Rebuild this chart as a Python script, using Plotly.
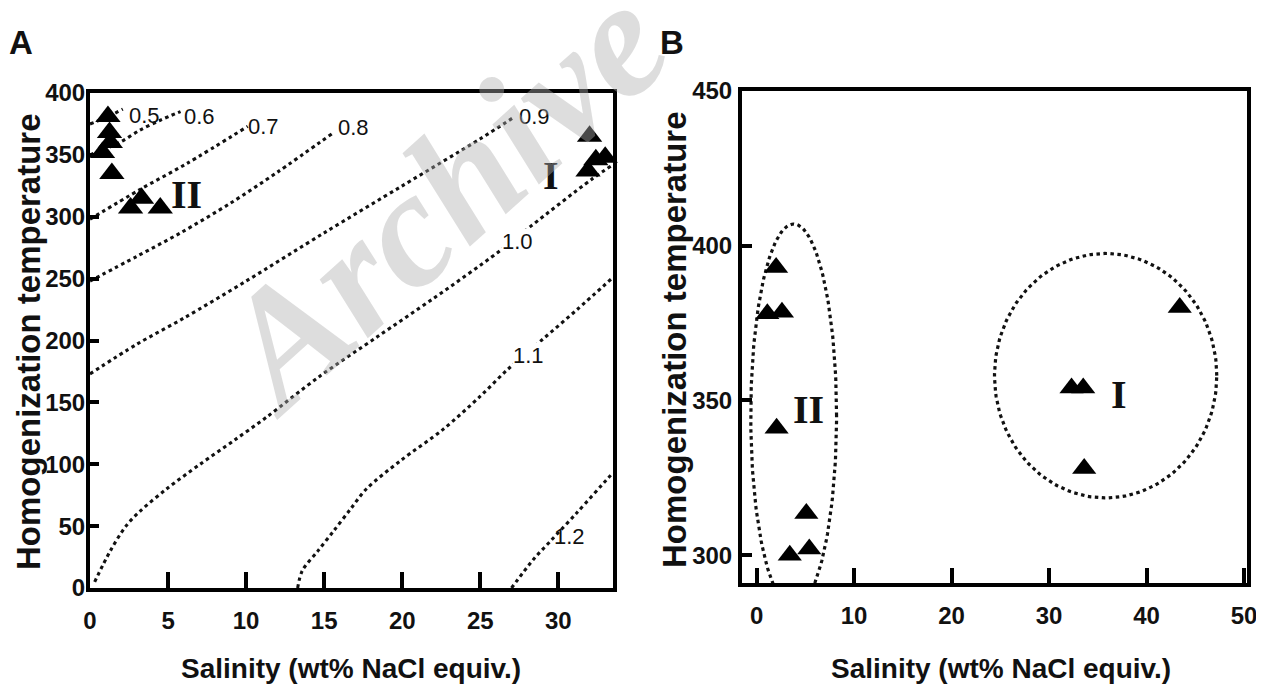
import numpy as np
import plotly.graph_objects as go

# page body has an 8 px margin, so the figure is sized to fit the window
W, H = 1256, 686
OFF = 8

# ---------------- Panel A data ----------------
a_group1_x = [32.0, 31.9, 32.4, 33.0, 33.6]
a_group1_y = [365, 337, 346, 348, 346]
a_group2_x = [1.15, 1.25, 1.3, 0.8, 1.4, 2.6, 3.3, 4.5]
a_group2_y = [381, 368, 360, 352, 335, 307, 315, 307]

# density isolines (g/cm3) in salinity / temperature space
iso_labels = ["0.5", "0.6", "0.7", "0.8", "0.9", "1.0", "1.1", "1.2"]
iso_05_x = [0.0, 1.0, 2.1]
iso_05_y = [375, 380, 387]
iso_06_x = [0.0, 1.9, 3.2, 4.5, 5.8]
iso_06_y = [350, 360, 370, 378, 385]
iso_07_x = [0.0, 3.2, 6.2, 10.1]
iso_07_y = [298, 322, 343, 373]
iso_08_x = [0.0, 3.0, 5.8, 9.0, 12.0, 15.6]
iso_08_y = [248, 268, 287, 311, 336, 368]
iso_09_x = [0.0, 3.0, 6.0, 10.0, 15.0, 20.0, 25.0, 27.1]
iso_09_y = [173, 197, 218, 248, 287, 325, 363, 380]
iso_10_x = [0.3, 1.3, 2.3, 3.2, 4.9, 7.05, 9.2, 11.3, 14.7, 18.4, 22.0, 26.1, 28.2, 32.1, 33.5]
iso_10_y = [5, 30, 50, 62, 80, 100, 119, 138, 171, 203, 234, 271, 292, 330, 342]
iso_11_x = [13.3, 13.6, 14.6, 15.6, 16.7, 17.7, 19.9, 22.6, 25.0, 26.7, 29.0, 31.2, 33.5]
iso_11_y = [0, 14, 30, 46, 64, 80, 103, 128, 155, 176, 201, 225, 251]
iso_12_x = [27.0, 28.4, 29.5, 31.2, 33.2, 33.5]
iso_12_y = [0, 23, 38, 61, 89, 93]
iso_label_x = [3.5, 7.0, 11.1, 16.9, 28.5, 27.4, 28.1, 30.7]
iso_label_y = [382, 381, 373, 372, 381, 280, 188, 42]
iso_label_bg = ["rgba(0,0,0,0)"] * 5 + ["white", "white", "rgba(0,0,0,0)"]

# ---------------- Panel B data ----------------
b_group1_x = [43.4, 32.3, 33.5, 33.6]
b_group1_y = [380, 354, 354, 328]
b_group2_x = [2.0, 1.1, 2.6, 2.05, 5.1, 3.4, 5.4]
b_group2_y = [393, 378, 378.5, 341, 313.5, 300, 302]
# cluster envelopes: centre x, centre y, half-width, half-height
env_group1 = [35.8, 358, 11.4, 39.5]
env_group2 = [3.8, 345, 4.4, 62]

x_ticks_a = [0, 5, 10, 15, 20, 25, 30]
y_ticks_a = [0, 50, 100, 150, 200, 250, 300, 350, 400]
x_ticks_b = [0, 10, 20, 30, 40, 50]
y_ticks_b = [300, 350, 400, 450]

x_title = "Salinity (wt% NaCl equiv.)"
y_title = "Homogenization temperature"

INK = "#111111"
SANS = "Liberation Sans, Arial, sans-serif"
SERIF = "Liberation Serif, Times New Roman, serif"

fig = go.Figure()

iso_x = [iso_05_x, iso_06_x, iso_07_x, iso_08_x, iso_09_x, iso_10_x, iso_11_x, iso_12_x]
iso_y = [iso_05_y, iso_06_y, iso_07_y, iso_08_y, iso_09_y, iso_10_y, iso_11_y, iso_12_y]
for xs, ys in zip(iso_x, iso_y):
    fig.add_trace(go.Scatter(x=xs, y=ys, mode="lines", xaxis="x", yaxis="y",
                             line=dict(color=INK, width=3.1, dash="3.5px,3.5px", shape="spline", smoothing=0.9),
                             hoverinfo="skip", showlegend=False))

tri = dict(symbol="triangle-up", size=22, color="black", line=dict(width=0))
for xs, ys in [(a_group1_x, a_group1_y), (a_group2_x, a_group2_y)]:
    fig.add_trace(go.Scatter(x=xs, y=ys, mode="markers", xaxis="x", yaxis="y",
                             marker=tri, cliponaxis=False, showlegend=False))

# Panel B envelopes
t = np.linspace(0, 2 * np.pi, 200)
for cx, cy, ax_, by_ in [env_group1, env_group2]:
    fig.add_trace(go.Scatter(x=cx + ax_ * np.cos(t), y=cy + by_ * np.sin(t), mode="lines",
                             xaxis="x2", yaxis="y2",
                             line=dict(color=INK, width=3.2, dash="3.5px,3.5px"),
                             hoverinfo="skip", showlegend=False))
tri_b = dict(symbol="triangle-up", size=21, color="black", line=dict(width=0))
for xs, ys in [(b_group1_x, b_group1_y), (b_group2_x, b_group2_y)]:
    fig.add_trace(go.Scatter(x=xs, y=ys, mode="markers", xaxis="x2", yaxis="y2",
                             marker=tri_b, cliponaxis=False, showlegend=False))

def px_x(p):
    return (p - OFF) / W

def px_y(p):
    return 1 - (p - OFF) / H

tickfont = dict(family=SANS, size=24, color=INK, weight="bold")
axis_common = dict(showline=True, linewidth=4, linecolor="black", mirror=True,
                   ticks="inside", tickwidth=4, tickcolor="black", automargin=False,
                   showgrid=False, zeroline=False, tickfont=tickfont)

fig.update_layout(
    width=W, height=H, margin=dict(l=0, r=0, t=0, b=0, autoexpand=False),
    paper_bgcolor="white", plot_bgcolor="white", showlegend=False,
    xaxis=dict(domain=[px_x(90), px_x(613)], range=[0, 33.5], tickvals=x_ticks_a,
               ticklen=16, ticklabelstandoff=8, anchor="y", **axis_common),
    yaxis=dict(domain=[px_y(588), px_y(93)], range=[0, 400], tickvals=y_ticks_a,
               ticklen=9, ticklabelstandoff=-4, anchor="x", **axis_common),
    xaxis2=dict(domain=[px_x(742), px_x(1247)], range=[-1.5, 50.3], tickvals=x_ticks_b,
                ticklen=15, ticklabelstandoff=8, anchor="y2", **axis_common),
    yaxis2=dict(domain=[px_y(583), px_y(91)], range=[291, 450], tickvals=y_ticks_b,
                ticklen=10, ticklabelstandoff=1, anchor="x2", **axis_common),
)

ann = []
# isoline labels
for lab, xx, yy, bg in zip(iso_labels, iso_label_x, iso_label_y, iso_label_bg):
    ann.append(dict(x=xx, y=yy, xref="x", yref="y", text=lab, showarrow=False,
                    font=dict(family=SANS, size=22, color=INK), bgcolor=bg, borderpad=0,
                    xanchor="center", yanchor="middle"))
# axis titles
for cx in [351, 1001]:
    ann.append(dict(x=px_x(cx), y=px_y(668), xref="paper", yref="paper", text=x_title,
                    showarrow=False, font=dict(family=SANS, size=28, color=INK, weight="bold"),
                    xanchor="center", yanchor="middle"))
for cx, cy in [(28, 342), (674, 340)]:
    ann.append(dict(x=px_x(cx), y=px_y(cy), xref="paper", yref="paper", text=y_title,
                    textangle=-90, showarrow=False,
                    font=dict(family=SANS, size=33, color=INK, weight="bold"),
                    xanchor="center", yanchor="middle"))
# panel letters
for lab, cx in [("A", 21), ("B", 672)]:
    ann.append(dict(x=px_x(cx), y=px_y(42), xref="paper", yref="paper", text=lab,
                    showarrow=False, font=dict(family=SANS, size=33, color=INK, weight="bold"),
                    xanchor="center", yanchor="middle"))
# group labels
for txt, xx, yy, xr, yr in [("I", 29.5, 333, "x", "y"), ("II", 6.2, 318, "x", "y"),
                            ("I", 37.2, 352, "x2", "y2"), ("II", 5.3, 347, "x2", "y2")]:
    ann.append(dict(x=xx, y=yy, xref=xr, yref=yr, text=txt, showarrow=False,
                    font=dict(family=SERIF, size=40, color=INK, weight="bold"),
                    xanchor="center", yanchor="middle"))
# watermark
ann.append(dict(x=px_x(440), y=px_y(198), xref="paper", yref="paper", text="Archive",
                textangle=-42, showarrow=False,
                font=dict(family=SERIF, size=165, color="rgba(175,175,175,0.42)",
                          weight="bold", style="italic"),
                xanchor="center", yanchor="middle"))
fig.update_layout(annotations=ann)

fig.write_html("out.html")
